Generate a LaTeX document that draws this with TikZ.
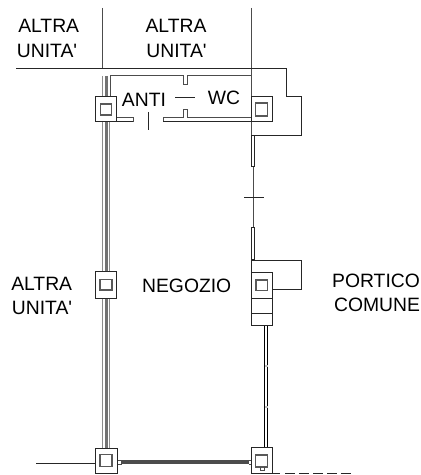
\documentclass[tikz,border=0pt]{standalone}
\usepackage{fontspec}
\newfontfamily\lblfont{Liberation Sans}
\tikzset{
  x=0.02cm,y=-0.02cm,
  ln/.style={line width=0.02cm,draw=black!85},
  thn/.style={line width=0.02cm,draw=black!70},
  txt/.style={inner sep=0pt,font=\lblfont\fontsize{11pt}{13pt}\selectfont,text=black},
  sqo/.style={line width=0.02cm,draw=black!85,fill=white},
  sqi/.style={line width=0.028cm,draw=black!65,fill=white},
  wallo/.style={line width=0.02cm,draw=black!45},
  wallm/.style={line width=0.06cm,draw=black!55},
  winb/.style={line width=0.02cm,draw=black!85,fill=white},
}
\begin{document}
\begin{tikzpicture}
\useasboundingbox (0,0) rectangle (421,475);
% party lines
\draw[thn] (102,8) -- (102,68);
\draw[thn] (251,8) -- (251,136);
\draw[ln] (16,68.5) -- (286,68.5) -- (286,96.5) -- (301,96.5) -- (301,135.7) -- (251,135.7);
% rooms
\draw[thn] (110,97) -- (110,76) -- (183,76) -- (183,85) -- (187,85) -- (187,76) -- (251,76);
\draw[thn] (117,118) -- (133,118) -- (133,122);
\draw[ln] (117,122) -- (133,122);
\draw[thn] (163,122) -- (163,118) -- (183,118) -- (183,110) -- (187,110) -- (187,118) -- (251,118);
\draw[ln] (163,122) -- (251,122);
\draw[ln] (148,112) -- (148,130);
\draw[ln] (175,97.5) -- (195,97.5);
% left wall
\draw[wallo] (102.5,76) -- (102.5,448);
\draw[wallm] (106,76) -- (106,448);
\draw[wallo] (109.5,97) -- (109.5,448);
% bottom
\draw[ln] (36,463) -- (95,463);
\draw[line width=0.065cm,draw=black!70] (121,462) -- (249,462);
\draw[thn] (117,460) -- (121,460) -- (121,464.5) -- (117,464.5);
\draw[thn] (249,460) -- (251,460) -- (251,464.5) -- (249,464.5);
% right upper
\draw[thn] (253.5,135) -- (253.5,228);
\draw[winb] (251.5,136) rectangle (254.5,167);
\draw[ln] (244,198) -- (264,198);
\draw[winb] (251.5,228) rectangle (254.5,260);
% portico box
\draw[ln] (251,260.6) -- (301,260.6) -- (301,289.5) -- (272,289.5);
\draw[ln] (251,260.6) -- (251,325.5) -- (272.5,325.5) -- (272.5,272.3) -- (251,272.3);
\draw[ln] (251,298) -- (272.5,298);
\draw[ln] (251,313.5) -- (272.5,313.5);
\draw[sqi] (256,280) rectangle (267.5,290.5);
% right lower wall
\draw[line width=0.025cm,draw=black] (264.8,326) -- (264.8,448);
\draw[line width=0.025cm,draw=black] (267.6,326) -- (267.6,448);
\foreach \yy in {366,406.7}{\draw[black!25,line width=0.04cm] (264.8,\yy) -- (267.6,\yy);}
% squares
\draw[sqo] (95.5,96.5) rectangle (116.5,122);
\draw[sqi] (100.5,104) rectangle (111.5,115);
\draw[sqo] (251,96.5) rectangle (272,122);
\draw[sqi] (255.7,103) rectangle (267.7,116);
\draw[sqo] (95.3,272) rectangle (116.7,298);
\draw[sqi] (100,279.6) rectangle (112,290);
\draw[sqo] (95.3,448) rectangle (117,473);
\draw[sqi] (100,454.6) rectangle (112,466.5);
\draw[sqo] (251,447.7) rectangle (272.7,473);
\draw[sqi] (255.7,455) rectangle (267.5,467);
\draw[thn] (260,467) -- (260,470) -- (264,470) -- (264,467);
\draw[ln] (272.7,473) -- (280,473);
\draw[ln,dash pattern=on 0.2cm off 0.08cm] (285,473) -- (352,473);
% labels
\node[txt] (a1) at (48.7,26) {ALTRA};
\node[txt] (a2) at (47,51) {UNITA'};
\node[txt] (b1) at (176,26) {ALTRA};
\node[txt] (b2) at (176.5,51) {UNITA'};
\node[txt] (anti) at (144,100) {ANTI};
\node[txt] (wc) at (224,98) {WC};
\node[txt] (neg) at (186.7,285.5) {NEGOZIO};
\node[txt] (c1) at (41.7,284) {ALTRA};
\node[txt] (c2) at (42,307.5) {UNITA'};
\node[txt] (p1) at (376,280.5) {PORTICO};
\node[txt] (p2) at (377,304.5) {COMUNE};
\end{tikzpicture}
\end{document}
